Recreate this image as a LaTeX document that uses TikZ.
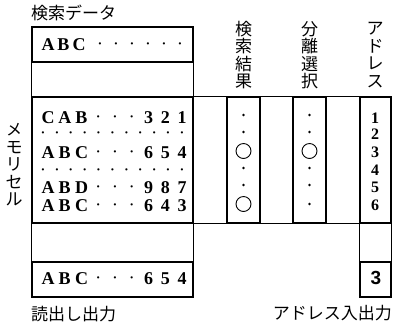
\documentclass[tikz,border=0pt]{standalone}
\usepackage{fontspec}
\setsansfont{Liberation Sans}
\newfontfamily\jp{Noto Sans CJK JP}
\newfontfamily\lat{Liberation Serif}
\newcommand\md{\raisebox{3.5pt}{\fontsize{8}{8}\selectfont •}}
\begin{document}
\begin{tikzpicture}[x=1pt,y=-1pt,
  box/.style={draw, line width=1.4pt, inner sep=0pt},
  link/.style={line width=0.8pt},
  ch/.style={font=\fontsize{18}{18}\selectfont\lat\bfseries, inner sep=0pt, text height=12pt, text depth=0pt, anchor=center},
  dt/.style={font=\fontsize{18}{18}\selectfont\lat\bfseries, inner sep=0pt, anchor=base},
  dig/.style={font=\fontsize{16}{16}\selectfont\lat\bfseries, inner sep=0pt, text height=11pt, text depth=0pt, anchor=center},
  mk/.style={circle, fill, minimum size=2.8pt, inner sep=0pt},
  ring/.style={circle, draw, line width=0.9pt, minimum size=15pt, inner sep=0pt},
  jl/.style={font=\fontsize{17}{17.5}\selectfont\jp, inner sep=0pt},
  vl/.style={font=\fontsize{17}{17.5}\selectfont\jp, inner sep=0pt, align=center}]
\useasboundingbox (0,0) rectangle (393,325);
% boxes
\node[box, minimum width=161pt, minimum height=35pt] (sd) at (112.5,44.5) {};
\node[box, minimum width=161pt, minimum height=126pt] (mem) at (112.5,160) {};
\node[box, minimum width=161pt, minimum height=35pt] (out) at (112.5,279.5) {};
\node[box, minimum width=33pt, minimum height=126pt] (c1) at (243.5,160) {};
\node[box, minimum width=33pt, minimum height=126pt] (c2) at (309.5,160) {};
\node[box, minimum width=31pt, minimum height=126pt] (c3) at (375.5,160) {};
\node[box, minimum width=31pt, minimum height=35pt] (aout) at (375.5,279.5) {};
% connectors
\draw[link] (sd.south west) -- (mem.north west);
\draw[link] (sd.south east) -- (mem.north east);
\draw[link] (mem.south west) -- (out.north west);
\draw[link] (mem.south east) -- (out.north east);
\draw[link] (mem.north east) -- (c1.north west);
\draw[link] (c1.north east) -- (c2.north west);
\draw[link] (c2.north east) -- (c3.north west);
\draw[link] (mem.south east) -- (c1.south west);
\draw[link] (c1.south east) -- (c2.south west);
\draw[link] (c2.south east) -- (c3.south west);
\draw[link] (c3.south west) -- (aout.north west);
\draw[link] (c3.south east) -- (aout.north east);
% search data text
\foreach \c/\x [count=\i] in {A/48,B/63.5,C/79,\md/100,\md/116,\md/132,\md/148,\md/164,\md/180}
  \node[ch] (sdc\i) at (\x,44) {\c};
% memory rows
\foreach \c [count=\i from 0] in {C,A,B,\md,\md,\md,3,2,1}
  \node[ch] (ra\i) at ({48+16.75*\i},117) {\c};
\foreach \i in {0,...,10}
  \node[dt] (rb\i) at ({43+13.9*\i},139) {\md};
\foreach \c [count=\i from 0] in {A,B,C,\md,\md,\md,6,5,4}
  \node[ch] (rc\i) at ({48+16.75*\i},152) {\c};
\foreach \i in {0,...,10}
  \node[dt] (rd\i) at ({43+13.9*\i},176) {\md};
\foreach \c [count=\i from 0] in {A,B,D,\md,\md,\md,9,8,7}
  \node[ch] (re\i) at ({48+16.75*\i},187) {\c};
\foreach \c [count=\i from 0] in {A,B,C,\md,\md,\md,6,4,3}
  \node[ch] (rf\i) at ({48+16.75*\i},205) {\c};
% read output
\foreach \c [count=\i from 0] in {A,B,C,\md,\md,\md,6,5,4}
  \node[ch] (ro\i) at ({48+16.75*\i},278) {\c};
% search result column
\node[mk] (s1) at (243.5,115) {};
\node[mk] (s2) at (243.5,132) {};
\node[ring] (s3) at (243.5,151) {};
\node[mk] (s4) at (243.5,168) {};
\node[mk] (s5) at (243.5,185) {};
\node[ring] (s6) at (243.5,204) {};
% separation column
\node[mk] (p1) at (309.5,115) {};
\node[mk] (p2) at (309.5,132) {};
\node[ring] (p3) at (309.5,151) {};
\node[mk] (p4) at (309.5,168) {};
\node[mk] (p5) at (309.5,185) {};
\node[mk] (p6) at (309.5,204) {};
% address column
\foreach \d/\y in {1/118,2/134,3/152,4/170,5/187,6/205}
  \node[dig] (a\d) at (375,\y) {\d};
\node[font=\fontsize{19}{19}\selectfont\sffamily\bfseries, inner sep=0pt] (ao) at (376,278) {3};
% labels
\node[jl, anchor=west] (lsd) at (31,13) {検索データ};
\node[vl] (lmem) at (14,165) {\fontsize{16}{18.75}\selectfont メ\\モ\\リ\\セ\\ル};
\node[vl] (l1) at (243.5,55) {検\\索\\結\\果};
\node[vl] (l2) at (309.5,55) {分\\離\\選\\択};
\node[vl] (l3) at (375,55) {ア\\ド\\レ\\ス};
\node[jl, anchor=west] (lout) at (31,314) {読出し出力};
\node[jl, anchor=east] (laout) at (392,313) {アドレス入出力};
\end{tikzpicture}
\end{document}
